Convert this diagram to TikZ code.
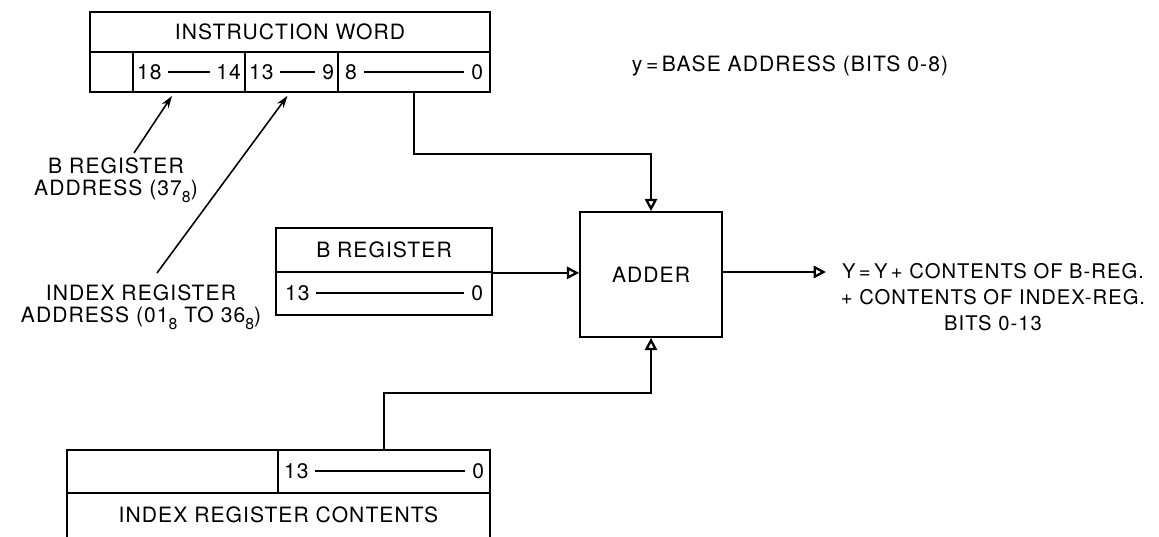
\documentclass[tikz,border=0pt]{standalone}
\usepackage{fontspec}
\setmainfont{TeX Gyre Heros}[LetterSpace=5]
\usetikzlibrary{arrows.meta}

\newcommand{\bitrange}[3]{\hbox to #1{#2\ \leaders\hrule height .40em depth -.32em\hfill\ #3}}
\newcommand{\octal}[1]{#1\raisebox{-.6ex}{\small 8}}

\begin{document}
\begin{tikzpicture}[x=0.02cm,y=-0.02cm,
  font=\fontsize{12}{13}\selectfont,
  cell/.style={draw,line width=1pt,inner sep=0pt,minimum height=0.86cm},
  flow/.style={-{Triangle[open,length=7pt,width=7pt,line width=1.3pt]},line width=0.9pt},
  pointer/.style={-{Stealth[length=7pt,width=4.5pt]},line width=0.9pt},
  note/.style={inner sep=0pt,align=center}]

%SPACING
\useasboundingbox (0,0) rectangle (1159,537);
%SPACING

%INSTRUCTION WORD
\node[cell,minimum width=8cm,minimum height=0.8cm](iw) at (290,32) {INSTRUCTION WORD};
\node[cell,minimum width=0.86cm,minimum height=0.8cm](iwop) at (111.5,72) {};
\node[cell,minimum width=2.24cm,minimum height=0.8cm](iwb) at (189,72) {\bitrange{2.08cm}{18}{14}};
\node[cell,minimum width=1.86cm,minimum height=0.8cm](iwx) at (291.5,72) {\bitrange{1.70cm}{13}{9}};
\node[cell,minimum width=3.04cm,minimum height=0.8cm](iwy) at (414,72) {\bitrange{2.76cm}{8}{0}};

\node[](base) at (790,66) {y\,=\,BASE ADDRESS (BITS 0-8)};

%B REGISTER
\node[cell,minimum width=4.32cm,minimum height=0.88cm](breg) at (384,250) {B REGISTER};
\node[cell,minimum width=4.32cm](bregbits) at (384,293.5) {\bitrange{3.96cm}{13}{0}};

%ADDER
\node[cell,minimum width=2.84cm,minimum height=2.5cm](adder) at (651,274.5) {ADDER};
\coordinate (out) at (826,272);
\node[note,font=\fontsize{11.5}{15}\selectfont](result) at (993,297) {Y\,=\,Y\,+ CONTENTS OF B-REG.\\+ CONTENTS OF INDEX-REG.\\BITS 0-13};

%INDEX REGISTER
\node[cell,minimum width=4.22cm](idxop) at (172.5,471.5) {};
\node[cell,minimum width=4.24cm](idxbits) at (384,471.5) {\bitrange{4.0cm}{13}{0}};
\node[inner sep=0pt,minimum width=8.46cm,minimum height=0.88cm](idxname) at (278.5,515) {INDEX REGISTER CONTENTS};
\draw[line width=1pt] (idxname.south west) -- (idxname.north west) (idxname.north east) -- (idxname.south east);

%LABELS
\node[note,anchor=north](baddr) at (116,157) {B REGISTER\\ADDRESS (\octal{37})};
\node[note,anchor=north](xaddr) at (141,284) {INDEX REGISTER\\ADDRESS (\octal{01} TO \octal{36})};

\draw[pointer] ([shift={(18,-4)}]baddr.north) -- ([shift={(-17,3)}]iwb.south);
\draw[pointer] ([shift={(16,-11)}]xaddr.north) -- ([shift={(-4,3)}]iwx.south);

\draw[flow] (iwy.south) -- ++(0,61) -| (adder.north);
\draw[flow] (breg.south east) -- (breg.south east -| adder.west);
\draw[flow] (idxbits.north) -- ++(0,-56) -| (adder.south);
\draw[flow] (adder.east |- out) -- (out);

\end{tikzpicture}
\end{document}
